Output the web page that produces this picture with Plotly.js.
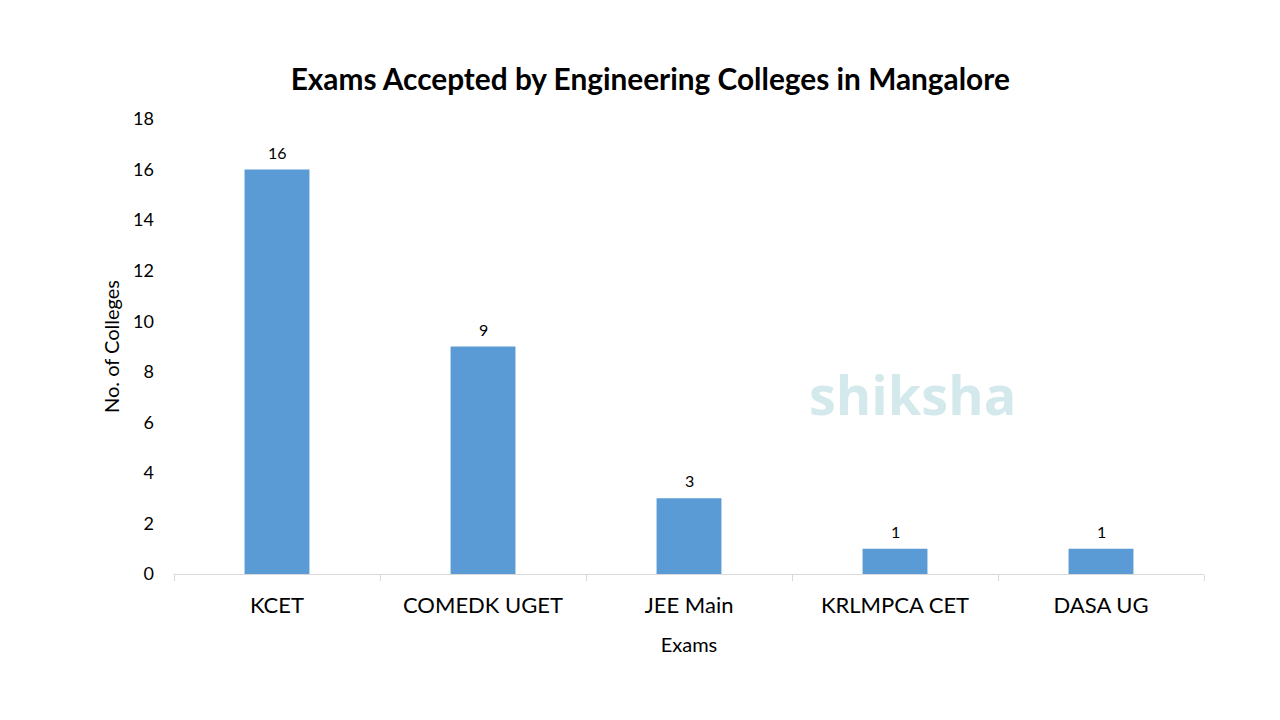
<!DOCTYPE html>
<html><head><meta charset="utf-8">
<script src="https://cdn.plot.ly/plotly-3.0.1.min.js"></script>
<style>html,body{margin:0;padding:0;background:#fff}#chart{width:1280px;height:720px}</style>
</head><body><div id="chart"></div>
<script>
const categories = ["KCET", "COMEDK UGET", "JEE Main", "KRLMPCA CET", "DASA UG"];
const collegeCounts = [16, 9, 3, 1, 1];
const yTicks = [0, 2, 4, 6, 8, 10, 12, 14, 16, 18];

const FONT = "Lato, 'Liberation Sans', sans-serif";
const trace = {
  type: "bar",
  x: categories,
  y: collegeCounts,
  marker: {color: "#5B9BD5"},
  hoverinfo: "skip"
};
const labelAnnotations = categories.map((c, i) => ({
  x: c, y: collegeCounts[i], xref: "x", yref: "y",
  text: String(collegeCounts[i]), showarrow: false,
  xanchor: "center", yanchor: "bottom", yshift: 6,
  font: {family: FONT, size: 16, color: "#000"}
}));
const layout = {
  width: 1280, height: 720,
  paper_bgcolor: "#fff", plot_bgcolor: "#fff",
  margin: {l: 174, r: 76, t: 119, b: 146},
  bargap: 0.685,
  showlegend: false,
  title: {text: "<b>Exams Accepted by Engineering Colleges in Mangalore</b>",
          font: {family: FONT, size: 29.8, color: "#000"}, x: 0.508, xanchor: "center", y: 0.89, yanchor: "middle"},
  xaxis: {
    type: "category",
    showline: true, linecolor: "#D9D9D9", linewidth: 1,
    ticks: "outside", tickson: "boundaries", ticklen: 6, tickcolor: "#D9D9D9",
    tickfont: {family: FONT, size: 22, color: "#000"},
    ticklabelstandoff: 12,
    showgrid: false, zeroline: false,
    title: {text: "Exams", font: {family: FONT, size: 20, color: "#000"}, standoff: 20}
  },
  yaxis: {
    range: [0, 18], tickvals: yTicks, ticktext: yTicks.map(String),
    showline: false, showgrid: false, zeroline: false, ticks: "",
    tickfont: {family: FONT, size: 18, color: "#000"},
    ticklabelstandoff: 19,
    title: {text: "No. of Colleges", font: {family: FONT, size: 20, color: "#000"}, standoff: 8}
  },
  annotations: labelAnnotations.concat([{
    xref: "paper", yref: "paper", x: 0.717, y: 0.395, xanchor: "center", yanchor: "middle",
    text: "<b>shiksha</b>", showarrow: false,
    font: {family: "'Open Sans', sans-serif", size: 54, color: "#D3E9EB"}
  }])
};
Plotly.newPlot("chart", [trace], layout, {displayModeBar: false, staticPlot: true});
</script></body></html>
